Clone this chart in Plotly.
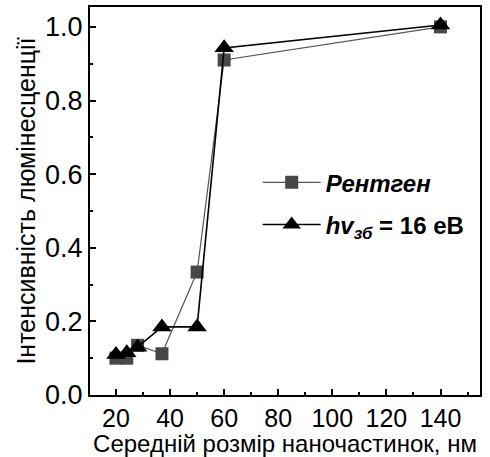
import plotly.graph_objects as go

size_nm = [20, 24, 28, 37, 50, 60, 140]
xray = [0.10, 0.10, 0.135, 0.112, 0.334, 0.910, 1.000]
vuv = [0.11, 0.115, 0.13, 0.185, 0.185, 0.943, 1.005]

FONT = "Liberation Sans, Arial, sans-serif"

fig = go.Figure()
fig.add_trace(go.Scatter(
    x=size_nm, y=xray, mode="lines+markers",
    name="<b><i>Рентген</i></b>", legendgroup="a",
    line=dict(color="#555555", width=1.2),
    marker=dict(symbol="square", size=13, color="#474747"),
))
fig.add_trace(go.Scatter(
    x=size_nm, y=vuv, mode="lines+markers",
    name="<b><i>hv<sub>зб</sub></i> = 16 eB</b>", legendgroup="b",
    line=dict(color="black", width=1.6),
    marker=dict(symbol="triangle-up", size=17, color="black"),
))

axis_common = dict(
    showline=True, linecolor="black", linewidth=2, mirror=True,
    ticks="inside", ticklen=6, tickwidth=1.5, tickcolor="black",
    showgrid=False, zeroline=False,
)

fig.update_xaxes(
    range=[10.4, 154.6], tickvals=[20, 40, 60, 80, 100, 120, 140],
    tickfont=dict(family=FONT, size=25, color="black"),
    minor=dict(ticks="inside", ticklen=3, tickwidth=1.5, tickcolor="black",
               dtick=10, tick0=10, showgrid=False),
    title=dict(text="Середній розмір наночастинок, нм",
               font=dict(family=FONT, size=24, color="black"), standoff=3),
    **axis_common,
)
fig.update_yaxes(
    range=[0, 1.054], tickvals=[0, 0.2, 0.4, 0.6, 0.8, 1.0], tickformat=".1f",
    tickfont=dict(family=FONT, size=27, color="black"),
    minor=dict(ticks="inside", ticklen=3, tickwidth=1.5, tickcolor="black",
               dtick=0.1, tick0=0, showgrid=False),
    title=dict(text="Інтенсивність люмінесценції",
               font=dict(family=FONT, size=25, color="black"), standoff=2),
    **axis_common,
)

fig.update_layout(
    width=490, height=457,
    margin=dict(l=90, r=10, t=5, b=60),
    plot_bgcolor="white", paper_bgcolor="white",
    showlegend=True,
    legend=dict(x=0.43, y=0.605, xanchor="left", yanchor="top",
                bgcolor="rgba(0,0,0,0)", borderwidth=0,
                font=dict(family=FONT, size=24, color="black"),
                itemwidth=58, tracegroupgap=8),
)

fig.write_html(
    "out.html",
    config={"displayModeBar": False},
    post_script="document.body.style.margin='0';document.body.style.overflow='hidden';",
)
